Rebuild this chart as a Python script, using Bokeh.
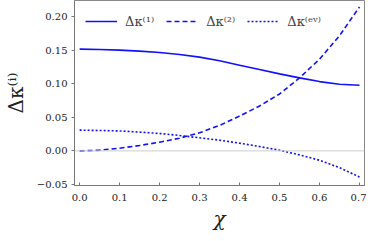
from bokeh.plotting import figure
from bokeh.models import Range1d, Span, Legend, LegendItem, FixedTicker, CustomJSTickFormatter
from bokeh.embed import file_html
from bokeh.resources import INLINE

chi = [0.0, 0.05, 0.10, 0.15, 0.20, 0.25, 0.30, 0.35, 0.40, 0.45, 0.50, 0.55, 0.60, 0.65, 0.70]
dk1 = [0.152, 0.1515, 0.1505, 0.149, 0.147, 0.144, 0.140, 0.1345, 0.128, 0.1215, 0.115, 0.109, 0.1035, 0.0995, 0.098]
dk2 = [0.0, 0.001, 0.004, 0.008, 0.013, 0.019, 0.027, 0.038, 0.052, 0.067, 0.085, 0.109, 0.137, 0.172, 0.215]
dkev = [0.031, 0.0305, 0.0298, 0.028, 0.026, 0.023, 0.0195, 0.016, 0.0115, 0.0065, 0.001, -0.006, -0.014, -0.025, -0.039]

x_ticks = [0.0, 0.1, 0.2, 0.3, 0.4, 0.5, 0.6, 0.7]
y_ticks = [-0.05, 0.0, 0.05, 0.10, 0.15, 0.20]
labels = ["Δκ⁽¹⁾", "Δκ⁽²⁾", "Δκ⁽ᵉᵛ⁾"]

FONT = "DejaVu Serif"

p = figure(width=366, height=233, output_backend="svg", toolbar_location=None,
           x_range=Range1d(-0.0128, 0.7125), y_range=Range1d(-0.0517, 0.2246),
           min_border_left=57, min_border_right=2, min_border_top=0, min_border_bottom=43)

p.grid.visible = False
p.outline_line_color = "#888888"
p.outline_line_width = 1
p.background_fill_color = "white"
p.border_fill_color = "white"

zero = Span(location=0, dimension="width", line_color="#cccccc", line_width=1)
p.add_layout(zero)

r1 = p.line(chi, dk1, line_color="#1010ff", line_width=1.6)
r2 = p.line(chi, dk2, line_color="#1010ff", line_width=1.6, line_dash="5 3")
r3 = p.line(chi, dkev, line_color="#1010ff", line_width=1.6, line_dash="2 2")

legend = Legend(items=[LegendItem(label=labels[0], renderers=[r1]),
                       LegendItem(label=labels[1], renderers=[r2]),
                       LegendItem(label=labels[2], renderers=[r3])],
                orientation="horizontal", location="top_left",
                background_fill_alpha=0, border_line_alpha=0,
                label_text_font=FONT, label_text_font_size="13px",
                glyph_width=32, label_standoff=8, spacing=12, padding=4, margin=7)
p.add_layout(legend, "center")

p.xaxis.ticker = FixedTicker(ticks=x_ticks)
p.yaxis.ticker = FixedTicker(ticks=y_ticks)
p.xaxis.formatter = CustomJSTickFormatter(code="return tick.toFixed(1);")
p.yaxis.formatter = CustomJSTickFormatter(code="return (tick < 0 ? '\u2212' + Math.abs(tick).toFixed(2) : tick.toFixed(2));")

for ax in (p.xaxis, p.yaxis):
    ax.axis_line_color = "#777777"
    ax.major_tick_line_color = "#777777"
    ax.minor_tick_line_color = None
    ax.major_label_text_font = FONT
    ax.major_label_text_font_size = "10px"
    ax.major_label_text_color = "#222222"
    ax.axis_label_text_font = FONT
    ax.axis_label_text_font_style = "normal"
    ax.axis_label_text_font_size = "20px"
    ax.axis_label_text_color = "#222222"

p.xaxis.major_tick_in = 3
p.xaxis.major_tick_out = 0
p.yaxis.major_tick_in = 0
p.yaxis.major_tick_out = 3
p.xaxis.major_label_standoff = 8
p.yaxis.major_label_standoff = 4
p.xaxis.axis_label = "χ"
p.xaxis.axis_label_text_font_style = "italic"
p.yaxis.axis_label = "Δκ⁽ⁱ⁾"
p.xaxis.axis_label_standoff = 3
p.yaxis.axis_label_standoff = 6

open("out.html", "w").write(file_html(p, INLINE))
